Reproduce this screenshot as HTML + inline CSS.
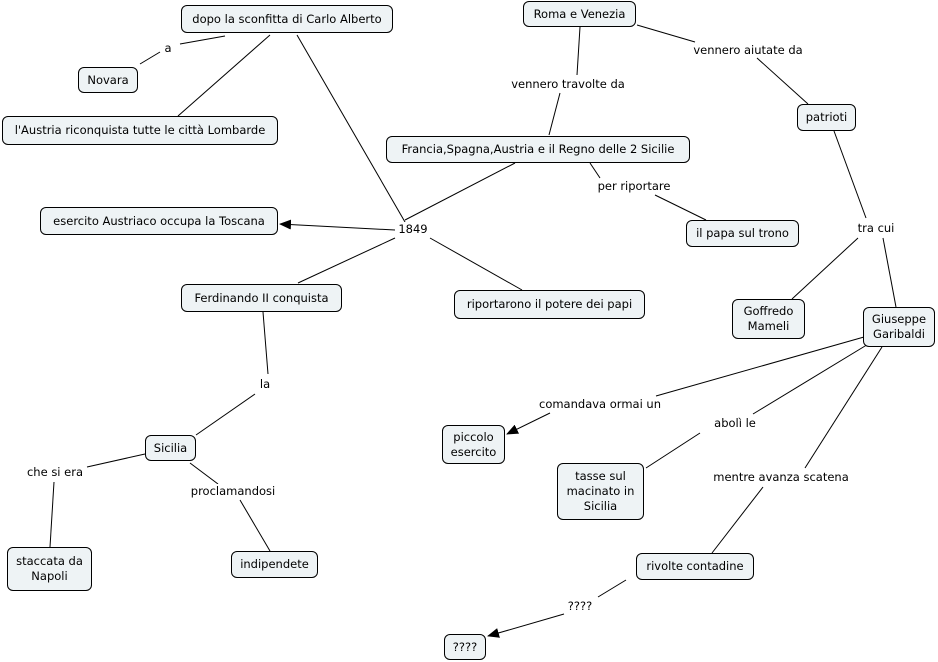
<!DOCTYPE html>
<html><head><meta charset="utf-8"><style>
body{margin:0;width:938px;height:662px;background:#fff;position:relative;overflow:hidden;font-family:"DejaVu Sans","Liberation Sans",sans-serif;font-size:11.5px;color:#000}
.n{position:absolute;box-sizing:border-box;background:#eef3f5;border:1px solid #000;border-radius:6px;display:flex;align-items:center;justify-content:center;text-align:center;line-height:15px;white-space:nowrap}
.l{position:absolute;transform:translate(-50%,-50%);background:#fff;white-space:nowrap;padding:0 1px;line-height:14px}
svg{position:absolute;left:0;top:0}
</style></head><body>
<svg width="938" height="662"><defs><marker id="a" markerWidth="12" markerHeight="10" refX="11" refY="5" orient="auto" markerUnits="userSpaceOnUse"><path d="M0,0L12,5L0,10z" fill="#000"/></marker></defs>
<g stroke="#000" stroke-width="1" fill="none">
<line x1="225" y1="36" x2="180" y2="44"/><line x1="160" y1="52" x2="140" y2="64"/>
<line x1="270" y1="35" x2="178" y2="116"/>
<line x1="297" y1="35" x2="405" y2="222"/>
<line x1="395" y1="230" x2="280" y2="224" marker-end="url(#a)"/>
<line x1="515" y1="163" x2="405" y2="220"/>
<line x1="395" y1="238" x2="298" y2="283"/>
<line x1="430" y1="238" x2="522" y2="290"/>
<line x1="580" y1="27" x2="577" y2="75"/><line x1="560" y1="93" x2="549" y2="135"/>
<line x1="637" y1="25" x2="695" y2="42"/><line x1="757" y1="58" x2="808" y2="104"/>
<line x1="590" y1="163" x2="600" y2="178"/><line x1="655" y1="195" x2="706" y2="220"/>
<line x1="834" y1="131" x2="866" y2="218"/><line x1="858" y1="238" x2="792" y2="299"/><line x1="883" y1="238" x2="896" y2="307"/>
<line x1="263" y1="312" x2="268" y2="374"/><line x1="255" y1="394" x2="196" y2="435"/>
<line x1="145" y1="454" x2="87" y2="467"/><line x1="54" y1="482" x2="50" y2="547"/>
<line x1="190" y1="463" x2="218" y2="484"/><line x1="240" y1="500" x2="270" y2="551"/>
<line x1="864" y1="337" x2="656" y2="396"/><line x1="550" y1="413" x2="507" y2="434" marker-end="url(#a)"/>
<line x1="870" y1="343" x2="753" y2="414"/><line x1="700" y1="433" x2="646" y2="468"/>
<line x1="882" y1="347" x2="805" y2="468"/><line x1="763" y1="487" x2="712" y2="553"/>
<line x1="626" y1="580" x2="598" y2="597"/><line x1="564" y1="614" x2="488" y2="636" marker-end="url(#a)"/>
</g></svg>
<div class="n" style="left:181px;top:5px;width:212px;height:28px">dopo la sconfitta di Carlo Alberto</div>
<div class="n" style="left:78px;top:67px;width:60px;height:26px">Novara</div>
<div class="n" style="left:2px;top:116px;width:276px;height:29px">l'Austria riconquista tutte le città Lombarde</div>
<div class="n" style="left:40px;top:207px;width:238px;height:28px">esercito Austriaco occupa la Toscana</div>
<div class="n" style="left:523px;top:1px;width:113px;height:26px">Roma e Venezia</div>
<div class="n" style="left:386px;top:136px;width:304px;height:27px">Francia,Spagna,Austria e il Regno delle 2 Sicilie</div>
<div class="n" style="left:797px;top:104px;width:59px;height:27px">patrioti</div>
<div class="n" style="left:686px;top:220px;width:113px;height:27px">il papa sul trono</div>
<div class="n" style="left:454px;top:290px;width:191px;height:29px">riportarono il potere dei papi</div>
<div class="n" style="left:181px;top:284px;width:161px;height:28px">Ferdinando II conquista</div>
<div class="n" style="left:732px;top:299px;width:73px;height:40px">Goffredo<br>Mameli</div>
<div class="n" style="left:863px;top:307px;width:72px;height:40px">Giuseppe<br>Garibaldi</div>
<div class="n" style="left:442px;top:425px;width:63px;height:39px">piccolo<br>esercito</div>
<div class="n" style="left:145px;top:435px;width:51px;height:26px">Sicilia</div>
<div class="n" style="left:557px;top:463px;width:87px;height:57px">tasse sul<br>macinato in<br>Sicilia</div>
<div class="n" style="left:7px;top:547px;width:85px;height:44px">staccata da<br>Napoli</div>
<div class="n" style="left:231px;top:551px;width:87px;height:27px">indipendete</div>
<div class="n" style="left:636px;top:553px;width:118px;height:27px">rivolte contadine</div>
<div class="n" style="left:444px;top:634px;width:42px;height:26px">????</div>
<div class="l" style="left:168px;top:48px">a</div>
<div class="l" style="left:568px;top:84px">vennero travolte da</div>
<div class="l" style="left:748px;top:50px">vennero aiutate da</div>
<div class="l" style="left:634px;top:186px">per riportare</div>
<div class="l" style="left:413px;top:229px">1849</div>
<div class="l" style="left:876px;top:228px">tra cui</div>
<div class="l" style="left:265px;top:384px">la</div>
<div class="l" style="left:600px;top:404px">comandava ormai un</div>
<div class="l" style="left:735px;top:423px">abolì le</div>
<div class="l" style="left:55px;top:472px">che si era</div>
<div class="l" style="left:233px;top:491px">proclamandosi</div>
<div class="l" style="left:781px;top:477px">mentre avanza scatena</div>
<div class="l" style="left:580px;top:606px">????</div>
</body></html>
